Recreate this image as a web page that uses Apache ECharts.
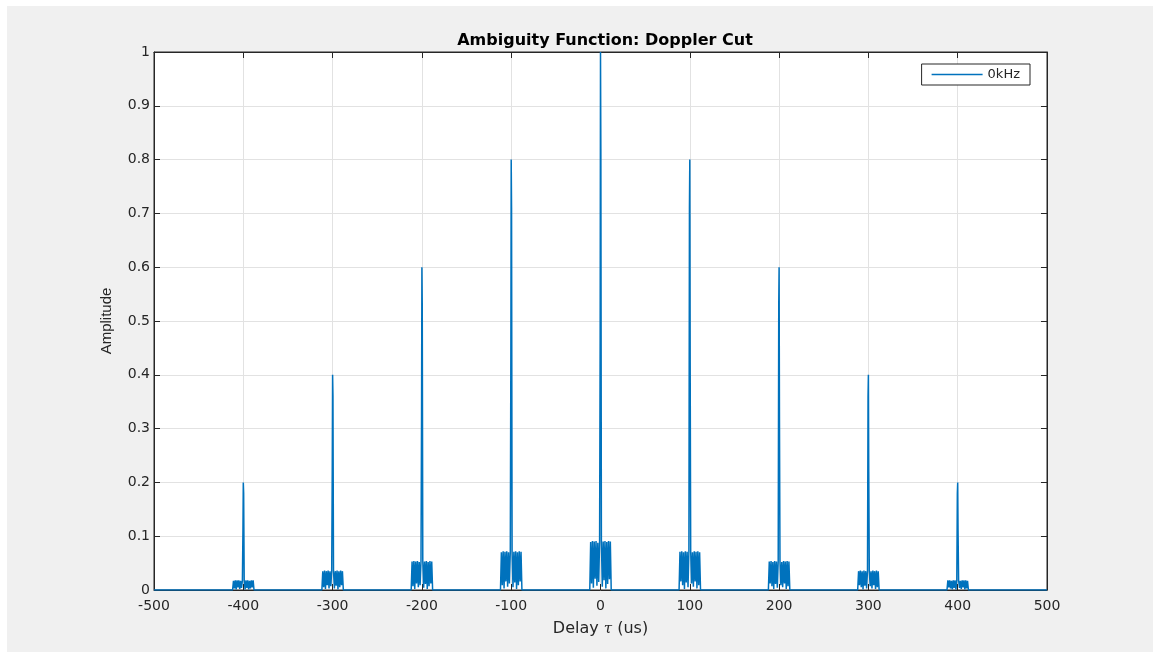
<!DOCTYPE html>
<html>
<head>
<meta charset="utf-8">
<script src="https://cdn.jsdelivr.net/npm/echarts@6/dist/echarts.min.js"></script>
<style>
html,body{margin:0;padding:0;background:#ffffff;width:1153px;height:652px;overflow:hidden;}
#c{position:absolute;left:7px;top:6px;width:1146px;height:646px;background:#f0f0f0;}
</style>
</head>
<body>
<div id="c"></div>
<script>
// ---- data ----
const xTicks = [-500,-400,-300,-200,-100,0,100,200,300,400,500];
const yTicks = [0,0.1,0.2,0.3,0.4,0.5,0.6,0.7,0.8,0.9,1];
const seriesName = '0kHz';
// spike centres (us)
const pulseDelays = [-400,-300,-200,-100,0,100,200,300,400];
// delay offsets (us) of the samples around each spike
const lagOffsets = [-12,-11,-10,-9,-8,-7,-6,-5,-4,-3,-2,-1,-0.4,0,0.4,1,2,3,4,5,6,7,8,9,10,11,12];
// amplitude samples for each spike (same order as pulseDelays)
const pulseM400 = [0,0.017,0.003,0.018,0.001,0.018,0.005,0.018,0.002,0.017,0.004,0.018,0.11,0.2,0.18,0.018,0.001,0.018,0.004,0.018,0.001,0.017,0.003,0.018,0.005,0.018,0];
const pulseM300 = [0,0.035,0.005,0.036,0.002,0.035,0.009,0.036,0.003,0.035,0.007,0.036,0.22,0.4,0.36,0.036,0.003,0.035,0.008,0.036,0.001,0.035,0.005,0.036,0.009,0.035,0];
const pulseM200 = [0,0.053,0.007,0.054,0.002,0.053,0.012,0.054,0.005,0.052,0.009,0.054,0.32,0.6,0.53,0.054,0.004,0.053,0.011,0.054,0.002,0.052,0.007,0.054,0.012,0.053,0];
const pulseM100 = [0,0.070,0.009,0.072,0.003,0.071,0.016,0.072,0.006,0.070,0.012,0.072,0.43,0.8,0.71,0.072,0.005,0.071,0.014,0.072,0.002,0.070,0.009,0.072,0.016,0.071,0];
const pulse0    = [0,0.089,0.012,0.091,0.004,0.090,0.021,0.091,0.008,0.088,0.015,0.091,0.46,1.0,0.82,0.091,0.006,0.090,0.018,0.091,0.003,0.089,0.011,0.091,0.020,0.090,0];
const pulseP100 = [0,0.071,0.016,0.072,0.009,0.070,0.002,0.072,0.014,0.071,0.005,0.072,0.71,0.8,0.43,0.072,0.012,0.070,0.006,0.072,0.016,0.071,0.003,0.072,0.009,0.070,0];
const pulseP200 = [0,0.053,0.012,0.054,0.007,0.052,0.002,0.054,0.011,0.053,0.004,0.054,0.53,0.6,0.32,0.054,0.009,0.052,0.005,0.054,0.012,0.053,0.002,0.054,0.007,0.053,0];
const pulseP300 = [0,0.035,0.009,0.036,0.005,0.035,0.001,0.036,0.008,0.035,0.003,0.036,0.36,0.4,0.22,0.036,0.007,0.035,0.003,0.036,0.009,0.035,0.002,0.036,0.005,0.035,0];
const pulseP400 = [0,0.018,0.005,0.018,0.003,0.017,0.001,0.018,0.004,0.018,0.001,0.018,0.18,0.2,0.11,0.018,0.004,0.017,0.002,0.018,0.005,0.018,0.001,0.018,0.003,0.017,0];
const pulseValues = [pulseM400,pulseM300,pulseM200,pulseM100,pulse0,pulseP100,pulseP200,pulseP300,pulseP400];

// ---- build series from the arrays ----
const lineData = [[xTicks[0], 0]];
pulseDelays.forEach((d, i) => {
  lagOffsets.forEach((o, j) => lineData.push([d + o, pulseValues[i][j]]));
});
lineData.push([xTicks[xTicks.length - 1], 0]);

const chart = echarts.init(document.getElementById('c'), null, {renderer: 'canvas'});
const axisColor = '#262626';
const gridColor = '#e2e2e2';
const lineColor = '#0072BD';
const wideFont = '"DejaVu Sans", Verdana, sans-serif';
const narrowFont = '"Liberation Sans", Arial, Helvetica, sans-serif';

chart.setOption({
  animation: false,
  backgroundColor: '#f0f0f0',
  color: [lineColor],
  title: {
    text: 'Ambiguity Function: Doppler Cut',
    left: 593, top: 22, textAlign: 'center',
    textStyle: {fontFamily: wideFont, fontSize: 16, fontWeight: 'bold', color: '#000'}
  },
  legend: {
    data: [{name: seriesName, icon: 'path://M0,0H51V1.3H0Z',
            itemStyle: {color: lineColor, borderWidth: 0, opacity: 1}}],
    right: 123, top: 58,
    orient: 'horizontal',
    backgroundColor: '#ffffff',
    borderColor: axisColor, borderWidth: 1, borderRadius: 0,
    padding: [4, 10, 4, 10],
    itemWidth: 51, itemHeight: 1.3,
    textStyle: {fontFamily: wideFont, fontSize: 13, color: axisColor}
  },
  grid: {
    left: 147, top: 46, width: 893, height: 538,
    show: true, backgroundColor: '#ffffff', borderColor: axisColor, borderWidth: 1,
    containLabel: false
  },
  xAxis: [{
    type: 'value', min: -500, max: 500, interval: 100,
    name: '{a|Delay }{t|τ}{a| (us)}', nameLocation: 'middle', nameGap: 31,
    nameTextStyle: {
      rich: {
        a: {fontFamily: wideFont, fontSize: 16, color: axisColor},
        t: {fontFamily: '"DejaVu Serif", serif', fontStyle: 'italic', fontSize: 15, color: axisColor}
      }
    },
    axisLine: {show: true, onZero: false, lineStyle: {color: axisColor, width: 1}},
    axisTick: {show: true, inside: true, length: 6, lineStyle: {color: axisColor}},
    axisLabel: {fontFamily: wideFont, fontSize: 14, color: axisColor, margin: 9,
      formatter: v => String(v)},
    splitLine: {show: true, lineStyle: {color: gridColor, width: 1}}
  }, {
    type: 'value', position: 'top', min: -500, max: 500, interval: 100,
    axisLine: {show: true, onZero: false, lineStyle: {color: axisColor, width: 1}},
    axisTick: {show: true, inside: true, length: 6, lineStyle: {color: axisColor}},
    axisLabel: {show: false}, splitLine: {show: false}
  }],
  yAxis: [{
    type: 'value', min: 0, max: 1, interval: 0.1,
    name: 'Amplitude', nameLocation: 'middle', nameGap: 40, nameRotate: 90,
    nameTextStyle: {fontFamily: narrowFont, fontSize: 15, color: axisColor},
    axisLine: {show: true, onZero: false, lineStyle: {color: axisColor, width: 1}},
    axisTick: {show: true, inside: true, length: 6, lineStyle: {color: axisColor}},
    axisLabel: {fontFamily: wideFont, fontSize: 14, color: axisColor, margin: 4,
      formatter: v => String(Math.round(v * 10) / 10)},
    splitLine: {show: true, lineStyle: {color: gridColor, width: 1}}
  }, {
    type: 'value', position: 'right', min: 0, max: 1, interval: 0.1,
    axisLine: {show: true, onZero: false, lineStyle: {color: axisColor, width: 1}},
    axisTick: {show: true, inside: true, length: 6, lineStyle: {color: axisColor}},
    axisLabel: {show: false}, splitLine: {show: false}
  }],
  series: [{
    name: seriesName,
    type: 'line',
    xAxisIndex: 0, yAxisIndex: 0,
    data: lineData,
    showSymbol: false, symbol: 'none',
    sampling: null,
    lineStyle: {color: lineColor, width: 1.5},
    itemStyle: {color: lineColor},
    z: 3
  }]
});
</script>
</body>
</html>
